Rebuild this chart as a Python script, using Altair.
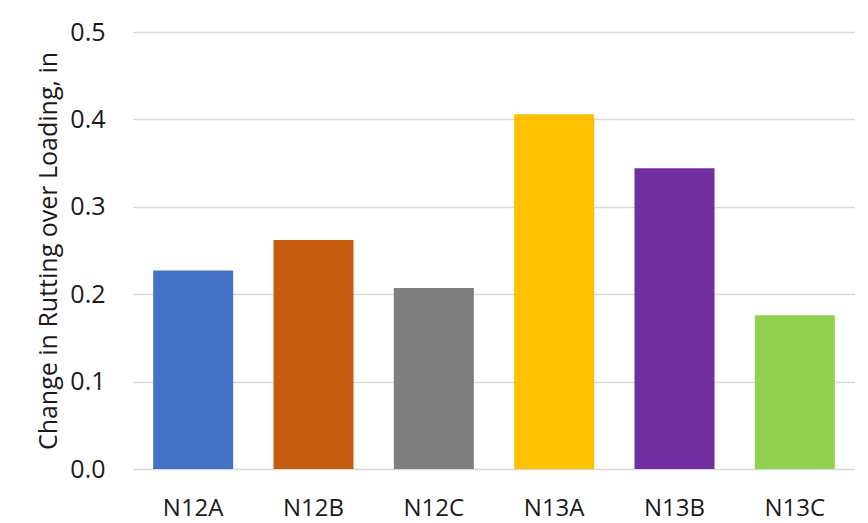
import altair as alt
import pandas as pd

sections = ["N12A", "N12B", "N12C", "N13A", "N13B", "N13C"]
rutting_change = [0.227, 0.262, 0.207, 0.406, 0.344, 0.176]
bar_colors = ["#4472C4", "#C55A11", "#7F7F7F", "#FFC000", "#7030A0", "#92D050"]
y_ticks = [0.0, 0.1, 0.2, 0.3, 0.4, 0.5]

df = pd.DataFrame({"section": sections, "value": rutting_change})

FONT = "Open Sans"

bars = alt.Chart(df).mark_bar().encode(
    x=alt.X("section:N", sort=sections, title=None,
            scale=alt.Scale(paddingInner=0.335, paddingOuter=0.1675),
            axis=alt.Axis(labelAngle=0, ticks=False, domain=True, domainColor="#D9D9D9",
                          labelPadding=27, labelFontSize=24, labelFont=FONT,
                          labelColor="#1a1a1a")),
    y=alt.Y("value:Q", title="Change in Rutting over Loading, in",
            scale=alt.Scale(domain=[0, 0.5], nice=False),
            axis=alt.Axis(values=y_ticks, format=".1f", ticks=False, domain=False,
                          gridColor="#D9D9D9", gridWidth=1.3,
                          labelPadding=28, labelFontSize=25, labelFont=FONT,
                          labelColor="#1a1a1a",
                          titleFont=FONT, titleFontSize=25, titleFontWeight="normal",
                          titleColor="#1a1a1a", titlePadding=8)),
    color=alt.Color("section:N", sort=sections,
                    scale=alt.Scale(domain=sections, range=bar_colors), legend=None),
)

top_line = alt.Chart(pd.DataFrame({"v": [0]})).mark_rule(color="#D9D9D9", strokeWidth=2).encode(
    x=alt.value(-125), x2=alt.value(735), y=alt.value(-29)
)

chart = alt.layer(bars, top_line).properties(
    width=722, height=437,
    autosize=alt.AutoSizeParams(type="none"),
    padding={"left": 125, "top": 24, "right": 0, "bottom": 53},
).configure_view(stroke=None)

chart.save("out.html", embed_options={"renderer": "svg", "actions": False})
